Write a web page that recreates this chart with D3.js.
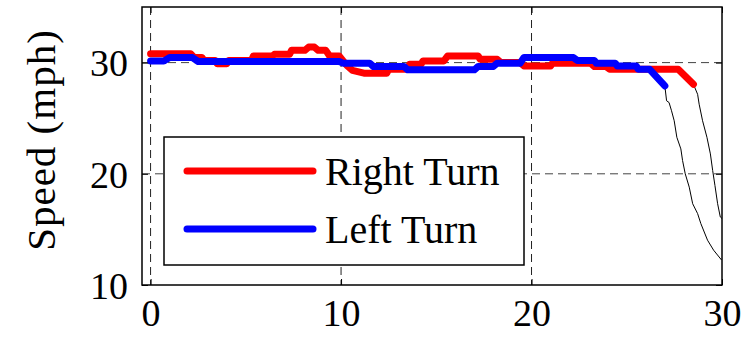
<!DOCTYPE html>
<html>
<head>
<meta charset="utf-8">
<script src="https://cdn.jsdelivr.net/npm/d3@7"></script>
<style>
  html, body { margin: 0; padding: 0; background: #fff; }
  svg { display: block; }
</style>
</head>
<body>
<svg id="chart" width="751" height="339"></svg>
<script>
// ---- data ----
const xTicks = [0, 10, 20, 30];
const yTicks = [10, 20, 30];
const yLabel = "Speed (mph)";
const legendLabels = ["Right Turn", "Left Turn"];
const seriesColors = ["#ff0000", "#0000ff"];

const rightTurnT = [0, 2.1, 2.3, 2.7, 2.8, 3.4, 3.5, 4.0, 4.1, 5.3, 5.4, 6.4, 6.5, 7.3, 7.4, 8.1, 8.3, 8.6, 8.8, 9.2, 9.4, 9.9, 10.3, 10.6, 11.2, 12.4, 12.5, 13.5, 13.6, 14.2, 14.3, 15.4, 15.6, 17.2, 17.3, 18.2, 18.4, 19.4, 19.6, 21.0, 21.1, 23.1, 23.3, 23.9, 24.1, 27.7, 28.5];
const rightTurnV = [30.8, 30.8, 30.45, 30.45, 30.2, 30.2, 29.9, 29.9, 30.2, 30.2, 30.6, 30.6, 30.75, 30.75, 31.1, 31.1, 31.4, 31.4, 31.1, 31.1, 30.6, 30.6, 29.75, 29.3, 29.05, 29.05, 29.4, 29.4, 29.85, 29.85, 30.15, 30.15, 30.6, 30.6, 30.3, 30.3, 30.0, 30.0, 29.7, 29.7, 29.95, 29.95, 29.65, 29.65, 29.4, 29.4, 28.05];

const leftTurnT = [0, 0.7, 1.0, 2.2, 2.5, 9.9, 10.1, 11.5, 11.7, 13.3, 13.5, 17.0, 17.2, 18.0, 18.2, 19.4, 19.6, 22.2, 22.4, 23.3, 23.4, 24.4, 24.5, 25.5, 25.6, 26.2, 27.0];
const leftTurnV = [30.15, 30.15, 30.45, 30.45, 30.1, 30.1, 29.95, 29.95, 29.65, 29.65, 29.35, 29.35, 29.65, 29.65, 29.95, 29.95, 30.45, 30.45, 30.2, 30.2, 29.95, 29.95, 29.7, 29.7, 29.4, 29.4, 27.9];

const rightTailT = [28.5, 28.72, 28.8, 28.98, 29.21, 29.39, 29.51, 29.63, 29.77, 29.91, 30.0];
const rightTailV = [28.05, 27.15, 26.26, 24.77, 23.28, 21.79, 20.3, 18.95, 17.31, 16.12, 15.98];

const leftTailT = [27.0, 27.09, 27.22, 27.35, 27.49, 27.63, 27.84, 27.93, 28.07, 28.28, 28.46, 28.72, 28.89, 29.24, 29.56, 29.98];
const leftTailV = [27.9, 26.57, 26.41, 25.67, 24.77, 23.28, 22.24, 21.19, 20.0, 18.8, 17.31, 16.42, 15.52, 14.03, 13.13, 12.24];

// ---- layout ----
const FONT = "'Liberation Serif', 'Times New Roman', Times, serif";
const L = 142, R = 722, T = 7, B = 285;
const svg = d3.select("#chart");
const x = d3.scaleLinear().domain([-0.45, 30]).range([L, R]);
const y = d3.scaleLinear().domain([10, 35]).range([B, T]);

svg.append("defs").append("clipPath").attr("id", "clip")
  .append("rect").attr("x", L).attr("y", T).attr("width", R - L).attr("height", B - T);

// grid
const grid = svg.append("g");
grid.selectAll("line.gx").data(xTicks.filter(d => d < 30)).enter().append("line")
  .attr("x1", d => x(d)).attr("x2", d => x(d)).attr("y1", T).attr("y2", B)
  .attr("stroke", "#222").attr("stroke-width", 1).attr("stroke-dasharray", "8,5");
grid.selectAll("line.gy").data(yTicks.filter(d => d > 10)).enter().append("line")
  .attr("y1", d => y(d)).attr("y2", d => y(d)).attr("x1", L).attr("x2", R)
  .attr("stroke", "#444").attr("stroke-width", 1).attr("stroke-dasharray", "8,5");

// lines
const zip = (a, b) => a.map((t, i) => [t, b[i]]);
const line = d3.line().x(d => x(d[0])).y(d => y(d[1]));
const plot = svg.append("g").attr("clip-path", "url(#clip)");
plot.append("path").datum(zip(rightTailT, rightTailV)).attr("d", line)
  .attr("fill", "none").attr("stroke", "#000").attr("stroke-width", 1);
plot.append("path").datum(zip(leftTailT, leftTailV)).attr("d", line)
  .attr("fill", "none").attr("stroke", "#000").attr("stroke-width", 1);

const thick = svg.append("g");
thick.append("path").datum(zip(rightTurnT, rightTurnV)).attr("d", line)
  .attr("fill", "none").attr("stroke", seriesColors[0]).attr("stroke-width", 7)
  .attr("stroke-linecap", "round").attr("stroke-linejoin", "round");
thick.append("path").datum(zip(leftTurnT, leftTurnV)).attr("d", line)
  .attr("fill", "none").attr("stroke", seriesColors[1]).attr("stroke-width", 7)
  .attr("stroke-linecap", "round").attr("stroke-linejoin", "round");

// axes box
svg.append("rect").attr("x", L).attr("y", T).attr("width", R - L).attr("height", B - T)
  .attr("fill", "none").attr("stroke", "#000").attr("stroke-width", 1.5);

const tickLen = 6;
const xb = svg.append("g").attr("transform", `translate(0,${B})`)
  .call(d3.axisBottom(x).tickValues(xTicks).tickSizeInner(-tickLen).tickSizeOuter(0).tickPadding(14));
const xt = svg.append("g").attr("transform", `translate(0,${T})`)
  .call(d3.axisTop(x).tickValues(xTicks).tickSizeInner(-tickLen).tickSizeOuter(0).tickFormat(""));
const yl = svg.append("g").attr("transform", `translate(${L},0)`)
  .call(d3.axisLeft(y).tickValues(yTicks).tickSizeInner(-tickLen).tickSizeOuter(0).tickPadding(14));
const yr = svg.append("g").attr("transform", `translate(${R},0)`)
  .call(d3.axisRight(y).tickValues(yTicks).tickSizeInner(-tickLen).tickSizeOuter(0).tickFormat(""));
[xb, xt, yl, yr].forEach(g => {
  g.attr("font-family", FONT).attr("font-size", 38);
  g.select(".domain").remove();
  g.selectAll(".tick line").attr("stroke", "#000").attr("stroke-width", 1);
  g.selectAll("text").attr("fill", "#000");
});
xb.selectAll("text").attr("dy", "0.71em");
yl.selectAll("text").attr("dy", "0.35em");

// y label
svg.append("text").attr("transform", `translate(55,${(T + B) / 2 - 6}) rotate(-90)`)
  .attr("font-family", FONT).attr("text-anchor", "middle").attr("font-size", 41)
  .attr("letter-spacing", 1).text(yLabel);

// legend
const lg = svg.append("g");
lg.append("rect").attr("x", 164).attr("y", 137).attr("width", 360).attr("height", 128)
  .attr("fill", "#fff").attr("stroke", "#000").attr("stroke-width", 1.5);
const rows = lg.selectAll("g.row").data(legendLabels).enter().append("g")
  .attr("transform", (d, i) => `translate(0,${171 + i * 58})`);
rows.append("line").attr("x1", 187).attr("x2", 313).attr("y1", 0).attr("y2", 0)
  .attr("stroke", (d, i) => seriesColors[i]).attr("stroke-width", 7).attr("stroke-linecap", "round");
rows.append("text").attr("x", 325).attr("y", 14).attr("font-family", FONT)
  .attr("font-size", 40).text(d => d);
</script>
</body>
</html>
